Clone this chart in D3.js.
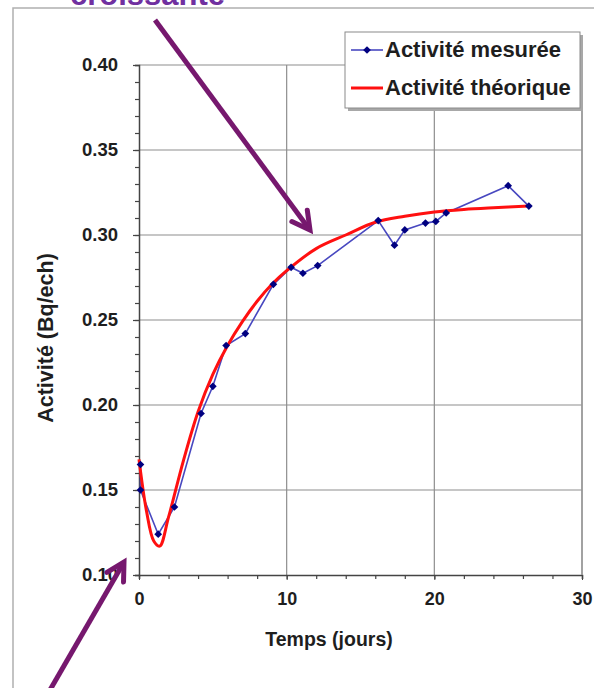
<!DOCTYPE html>
<html><head><meta charset="utf-8">
<script src="https://cdn.jsdelivr.net/npm/d3@7"></script>
<style>body{margin:0;background:#fff}svg{display:block}text{font-family:"Liberation Sans",Arial,sans-serif}</style>
</head><body><svg id="c" width="594" height="688"></svg>
<script>
// measured activity (days, Bq/ech)
const measT = [0.1, 0.1, 1.3, 2.4, 4.2, 5.0, 5.9, 7.2, 9.1, 10.3, 11.1, 12.1, 16.2, 17.3, 18.0, 19.4, 20.1, 20.8, 25.0, 26.4];
const measA = [0.165, 0.150, 0.124, 0.140, 0.195, 0.211, 0.235, 0.242, 0.271, 0.281, 0.2775, 0.282, 0.3085, 0.294, 0.303, 0.307, 0.308, 0.313, 0.329, 0.317];
// theoretical activity
const theoT = [0, 0.5, 1.0, 1.4, 2.0, 3.0, 4.0, 5.0, 6.0, 7.0, 8.0, 9.0, 10.0, 12.0, 14.0, 16.0, 18.0, 20.0, 22.0, 24.0, 26.4];
const theoA = [0.168, 0.138, 0.120, 0.117, 0.134, 0.167, 0.196, 0.218, 0.235, 0.249, 0.261, 0.271, 0.279, 0.292, 0.300, 0.3075, 0.311, 0.3135, 0.315, 0.316, 0.317];
const xTicks = [0, 10, 20, 30];
const yTicks = [0.10, 0.15, 0.20, 0.25, 0.30, 0.35, 0.40];
const seriesNames = ["Activité mesurée", "Activité théorique"];
const xTitle = "Temps (jours)";
const yTitle = "Activité (Bq/ech)";
const note = "croissante";

const svg = d3.select("#c");
const x = d3.scaleLinear().domain([0, 30]).range([139, 582]);
const y = d3.scaleLinear().domain([0.10, 0.40]).range([575, 65]);
const purple = "#76186e";
const ink = "#1e1e1e";

// outer slide frame
svg.append("path").attr("d", "M13,688V8H594").attr("fill", "none").attr("stroke", "#b0b0b0").attr("stroke-width", 1.5);

// note text (clipped at top as in the reference)
svg.append("text").attr("x", 70).attr("y", 5).attr("font-size", 31).attr("font-weight", "bold")
  .attr("fill", "#7030a0").text(note);

// grid
const g = svg.append("g");
g.selectAll("line.h").data(yTicks.slice(1)).join("line")
  .attr("x1", x(0)).attr("x2", x(30)).attr("y1", d => y(d)).attr("y2", d => y(d))
  .attr("stroke", "#8e8e8e").attr("stroke-width", 1.2);
g.selectAll("line.v").data(xTicks.slice(1)).join("line")
  .attr("x1", d => x(d)).attr("x2", d => x(d)).attr("y1", y(0.40)).attr("y2", y(0.10))
  .attr("stroke", "#8e8e8e").attr("stroke-width", 1.2);

// axes
const yAxis = d3.axisLeft(y).tickValues(d3.range(0.10, 0.4001, 0.01)).tickSize(4).tickFormat("");
const yg = svg.append("g").attr("transform", `translate(${x(0)},0)`).call(yAxis);
yg.select(".domain").attr("stroke", "#444").attr("stroke-width", 1.5);
yg.selectAll(".tick line").attr("stroke", "#444").attr("stroke-width", 1.2);
const yMaj = d3.axisLeft(y).tickValues(yTicks).tickSize(6).tickPadding(15).tickFormat(d3.format(".2f"));
const ym = svg.append("g").attr("transform", `translate(${x(0)},0)`).call(yMaj);
ym.select(".domain").remove();
ym.selectAll(".tick line").attr("stroke", "#444").attr("stroke-width", 1.2);
ym.selectAll("text").attr("font-size", 18.5).attr("font-weight", "bold").attr("fill", ink);

const xAxis = d3.axisBottom(x).tickValues(d3.range(0, 30.01, 2)).tickSize(4).tickFormat("");
const xg = svg.append("g").attr("transform", `translate(0,${y(0.10)})`).call(xAxis);
xg.select(".domain").attr("stroke", "#444").attr("stroke-width", 1.5);
xg.selectAll(".tick line").attr("stroke", "#444").attr("stroke-width", 1.2);
const xMaj = d3.axisBottom(x).tickValues(xTicks).tickSize(5).tickPadding(12).tickFormat(d3.format("d"));
const xm = svg.append("g").attr("transform", `translate(0,${y(0.10)})`).call(xMaj);
xm.select(".domain").remove();
xm.selectAll(".tick line").attr("stroke", "#444");
xm.selectAll("text").attr("font-size", 18).attr("font-weight", "bold").attr("fill", ink);

// axis titles
svg.append("text").attr("x", 329).attr("y", 646).attr("text-anchor", "middle").attr("font-size", 19.5)
  .attr("font-weight", "bold").attr("fill", ink).text(xTitle);
svg.append("text").attr("transform", "translate(53,338) rotate(-90)").attr("text-anchor", "middle")
  .attr("font-size", 21.5).attr("font-weight", "bold").attr("fill", ink).text(yTitle);

// measured series
const meas = measT.map((t, i) => [t, measA[i]]);
const theo = theoT.map((t, i) => [t, theoA[i]]);
svg.append("path").datum(meas).attr("fill", "none").attr("stroke", "#4848c0").attr("stroke-width", 1.6)
  .attr("d", d3.line().x(d => x(d[0])).y(d => y(d[1])));
// theoretical
svg.append("path").datum(theo).attr("fill", "none").attr("stroke", "#ff1010").attr("stroke-width", 3)
  .attr("d", d3.line().curve(d3.curveCatmullRom.alpha(0.5)).x(d => x(d[0])).y(d => y(d[1])));
// markers
const diamond = d3.symbol().type(d3.symbolDiamond2).size(38);
svg.selectAll("path.m").data(meas).join("path").attr("class", "m")
  .attr("transform", d => `translate(${x(d[0])},${y(d[1])})`).attr("d", diamond).attr("fill", "#000080");

// frame right
svg.append("line").attr("x1", x(30)).attr("x2", x(30)).attr("y1", y(0.40)).attr("y2", y(0.10))
  .attr("stroke", "#9a9a9a").attr("stroke-width", 1.5);

// legend
const lg = svg.append("g");
lg.append("rect").attr("x", 348).attr("y", 35).attr("width", 235).attr("height", 76).attr("fill", "#a8a8a8");
lg.append("rect").attr("x", 345).attr("y", 32).attr("width", 235).attr("height", 76).attr("fill", "#fff")
  .attr("stroke", "#8a8a8a").attr("stroke-width", 1);
lg.append("line").attr("x1", 351).attr("x2", 383).attr("y1", 50).attr("y2", 50).attr("stroke", "#4848c0").attr("stroke-width", 1.6);
lg.append("path").attr("transform", "translate(367,50)").attr("d", diamond).attr("fill", "#000080");
lg.append("line").attr("x1", 351).attr("x2", 383).attr("y1", 88).attr("y2", 88).attr("stroke", "#ff1010").attr("stroke-width", 3);
lg.selectAll("text").data(seriesNames).join("text").attr("x", 385).attr("y", (d, i) => 57 + i * 38)
  .attr("font-size", 22).attr("font-weight", "bold").attr("fill", ink).text(d => d);

// purple arrows
function arrow(x1, y1, x2, y2) {
  const a = Math.atan2(y2 - y1, x2 - x1), L = 20, s = 0.5;
  svg.append("line").attr("x1", x1).attr("y1", y1).attr("x2", x2 - 2 * Math.cos(a)).attr("y2", y2 - 2 * Math.sin(a))
    .attr("stroke", purple).attr("stroke-width", 5);
  const p1 = [x2 - L * Math.cos(a - s), y2 - L * Math.sin(a - s)];
  const p2 = [x2 - L * Math.cos(a + s), y2 - L * Math.sin(a + s)];
  svg.append("path").attr("d", `M${p1}L${x2},${y2}L${p2}`).attr("fill", "none")
    .attr("stroke", purple).attr("stroke-width", 5).attr("stroke-linejoin", "miter").attr("stroke-linecap", "round");
}
arrow(155, 20, 310, 230);
arrow(50, 690, 124, 562);
</script></body></html>
